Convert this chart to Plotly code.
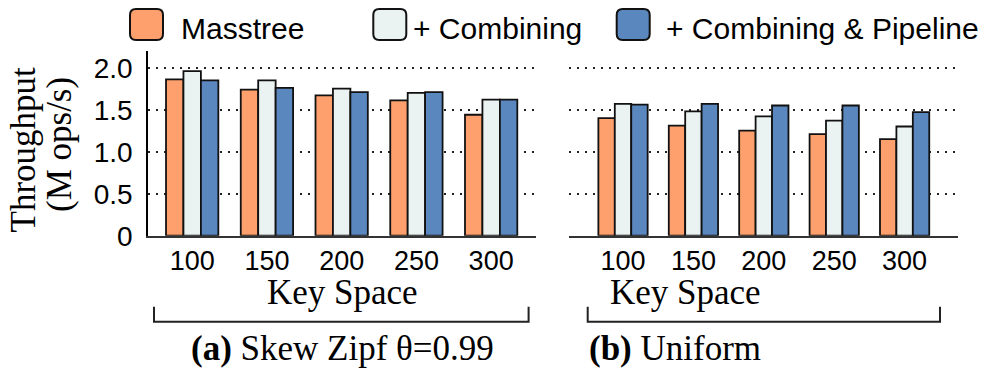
import plotly.graph_objects as go

W, H = 997, 370
OFFSET = 8  # the page body margin shifts the figure by 8px

key_space = ["100", "150", "200", "250", "300"]
series_names = ["Masstree", "+ Combining", "+ Combining & Pipeline"]

# (a) Skew Zipf theta=0.99
skew_masstree = [1.86, 1.74, 1.67, 1.61, 1.44]
skew_combining = [1.96, 1.85, 1.75, 1.70, 1.62]
skew_pipeline = [1.85, 1.76, 1.71, 1.71, 1.62]

# (b) Uniform
uni_masstree = [1.40, 1.31, 1.25, 1.21, 1.15]
uni_combining = [1.57, 1.48, 1.42, 1.37, 1.30]
uni_pipeline = [1.56, 1.57, 1.55, 1.55, 1.47]

y_ticks = [0, 0.5, 1.0, 1.5, 2.0]
y_ticktext = ["0", "0.5", "1.0", "1.5", "2.0"]

colors = ["#FDA06D", "#EAF2F2", "#5B87BF"]
SANS = "Liberation Sans, Arial, sans-serif"
SERIF = "Liberation Serif, Times New Roman, serif"


def px(x):
    return (x - OFFSET) / W


def py(y):
    return 1 - (y - OFFSET) / H


xpos = list(range(len(key_space)))

fig = go.Figure()
panels = [
    ("x", "y", [skew_masstree, skew_combining, skew_pipeline]),
    ("x2", "y2", [uni_masstree, uni_combining, uni_pipeline]),
]
for xa, ya, data in panels:
    for name, vals, c in zip(series_names, data, colors):
        fig.add_trace(go.Bar(
            x=xpos, y=vals, name=name, xaxis=xa, yaxis=ya,
            marker=dict(color=c, line=dict(color="#111111", width=1.8)),
            showlegend=False,
        ))

axis_common = dict(
    tickvals=xpos, ticktext=key_space, showgrid=False, zeroline=False,
    showline=True, linecolor="#333333", linewidth=2, ticks="",
    tickfont=dict(family=SANS, size=27, color="black"),
    ticklabelstandoff=0, automargin=False,
)
grid_y = dict(
    range=[0, 2.2], tickvals=y_ticks, showgrid=True, gridcolor="#222222",
    gridwidth=2, griddash="2px,6px", zeroline=False, ticks="",
    automargin=False,
)

fig.update_layout(
    width=W, height=H,
    margin=dict(l=0, r=0, t=0, b=0, pad=0, autoexpand=False),
    paper_bgcolor="white", plot_bgcolor="white",
    barmode="group", bargap=0.3, bargroupgap=0,
    xaxis=dict(domain=[px(148.3), px(536)], range=[-0.587, 4.6],
               anchor="y", **axis_common),
    xaxis2=dict(domain=[px(569.3), px(957.7)], range=[-0.763, 4.754],
                anchor="y2", **axis_common),
    yaxis=dict(domain=[py(235.7), py(50.9)], anchor="x",
               ticktext=y_ticktext, showline=True, linecolor="black",
               linewidth=2, ticklabelstandoff=8,
               tickfont=dict(family=SANS, size=28, color="black"), **grid_y),
    yaxis2=dict(domain=[py(235.7), py(50.9)], anchor="x2",
                showticklabels=False, showline=False, **grid_y),
)

shapes = []
annotations = []


def rounded_box(x0, y0, x1, y1, r):
    return ("M {a},{b} L {c},{b} Q {d},{b} {d},{e} L {d},{f} Q {d},{g} {c},{g} "
            "L {a},{g} Q {h},{g} {h},{f} L {h},{e} Q {h},{b} {a},{b} Z").format(
        a=px(x0 + r), b=py(y0), c=px(x1 - r), d=px(x1), e=py(y0 + r),
        f=py(y1 - r), g=py(y1), h=px(x0))


# legend drawn by hand (rounded swatches)
legend_items = [(130, 180), (373.3, 412), (616.7, 665)]
for (bx, tx), name, c in zip(legend_items, series_names, colors):
    shapes.append(dict(type="path", xref="paper", yref="paper",
                       path=rounded_box(bx, 9, bx + 33, 40, 6),
                       fillcolor=c, line=dict(color="#111111", width=2)))
    annotations.append(dict(x=px(tx), y=py(28), xref="paper", yref="paper",
                            text=name, showarrow=False, xanchor="left",
                            yanchor="middle", borderpad=0,
                            font=dict(family=SANS, size=30, color="black")))

# brackets, axis titles and captions
for x0, x1, cx, caption in [(154, 528.6, 342, "<b>(a)</b> Skew Zipf θ=0.99"),
                             (587.7, 940, 763, "<b>(b)</b> Uniform")]:
    shapes.append(dict(type="path", xref="paper", yref="paper",
                       path="M {a},{t} L {a},{b} L {c},{b} L {c},{t}".format(
                           a=px(x0), c=px(x1), t=py(306.7), b=py(321.7)),
                       line=dict(color="#222222", width=2)))
    annotations.append(dict(x=px(cx), y=py(314), xref="paper", yref="paper",
                            text="Key Space", showarrow=False,
                            font=dict(family=SERIF, size=35, color="black")))
    annotations.append(dict(x=px(cx), y=py(370), xref="paper", yref="paper",
                            text=caption, showarrow=False,
                            font=dict(family=SERIF, size=35, color="black")))

annotations.append(dict(x=px(1), y=py(150), xref="paper", yref="paper",
                        text="Throughput", showarrow=False, textangle=-90,
                        font=dict(family=SERIF, size=35, color="black")))
annotations.append(dict(x=px(37.5), y=py(145), xref="paper", yref="paper",
                        text="(M ops/s)", showarrow=False, textangle=-90,
                        font=dict(family=SERIF, size=35, color="black")))

fig.update_layout(shapes=shapes, annotations=annotations)

fig.write_html("out.html")
